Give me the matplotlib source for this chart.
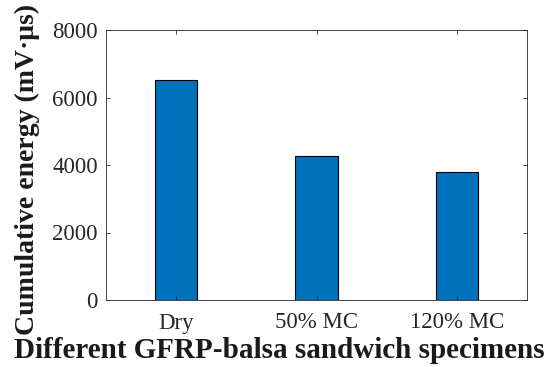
import matplotlib
matplotlib.use("Agg")
import matplotlib.pyplot as plt

categories = ["Dry", "50% MC", "120% MC"]
energy = [6520, 4270, 3800]
yticks = [0, 2000, 4000, 6000, 8000]

plt.rcParams['font.family'] = ['Liberation Serif', 'DejaVu Serif']

fig = plt.figure(figsize=(5.47, 3.67), dpi=100)
ax = fig.add_axes([106/547, 67/367, 421/547, 270/367])

x = list(range(1, len(categories) + 1))
ax.bar(x, energy, width=0.3, color='#0072BD', edgecolor='black', linewidth=0.8)

ax.set_xlim(0.5, 3.5)
ax.set_ylim(0, 8000)
ax.set_xticks(x)
ax.set_xticklabels(categories)
ax.set_yticks(yticks)
ax.tick_params(direction='in', top=True, right=True, length=3, width=0.6,
               labelsize=16.5, colors='#262626')
ax.tick_params(axis='x', pad=9)
ax.tick_params(axis='y', pad=6)
for lbl in ax.get_xticklabels() + ax.get_yticklabels():
    lbl.set_color('#262626')
for s in ax.spines.values():
    s.set_color('#262626')
    s.set_linewidth(0.6)

fig.text(279/547, 9/367, "Different GFRP-balsa sandwich specimens", fontsize=21,
         fontweight='bold', ha='center', va='baseline', color='#1a1a1a')
fig.text(27/547, (367-169)/367, "Cumulative energy (mV·μs)", fontsize=20, fontweight='bold',
         rotation=90, ha='center', va='center', color='#1a1a1a')

fig.savefig("out.png", dpi=100)
